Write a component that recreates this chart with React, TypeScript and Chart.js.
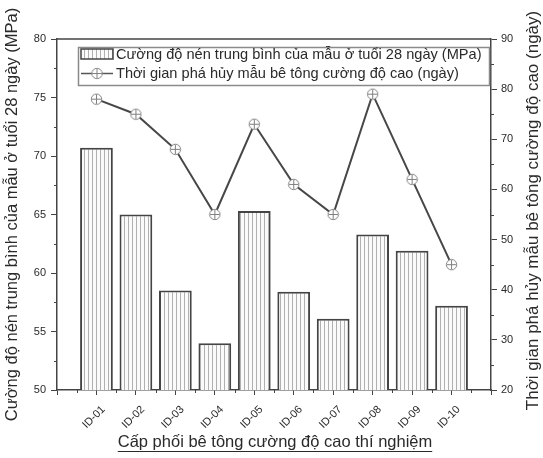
import React, { useEffect, useRef } from "react";
import { Chart, registerables } from "chart.js";

Chart.register(...registerables);

const categories = ["ID-01", "ID-02", "ID-03", "ID-04", "ID-05", "ID-06", "ID-07", "ID-08", "ID-09", "ID-10"];
const strength = [70.7, 65.0, 58.5, 54.0, 65.3, 58.4, 56.1, 63.3, 61.9, 57.2];
const failureDays = [78, 75, 68, 55, 73, 61, 55, 79, 62, 45];
const strengthLabel = "Cường độ nén trung bình của mẫu ở tuổi 28 ngày (MPa)";
const daysLabel = "Thời gian phá hủy mẫu bê tông cường độ cao (ngày)";
const xTitle = "Cấp phối bê tông cường độ cao thí nghiệm";
const leftRange = [50, 80];
const rightRange = [20, 90];

const FONT = '"Liberation Sans", Arial, sans-serif';
const AXIS = "#444";
const TEXT = "#2a2a2a";

function makePattern(): CanvasPattern | string {
  const c = document.createElement("canvas");
  c.width = 4;
  c.height = 4;
  const g = c.getContext("2d");
  if (!g) return "#fff";
  g.fillStyle = "#fafafa";
  g.fillRect(0, 0, 4, 4);
  g.fillStyle = "#b0b0b0";
  g.fillRect(0, 0, 1, 4);
  const p = g.createPattern(c, "repeat");
  return p || "#fff";
}

function makeMarker(): HTMLCanvasElement {
  const c = document.createElement("canvas");
  c.width = 13;
  c.height = 13;
  const g = c.getContext("2d")!;
  g.beginPath();
  g.arc(6.5, 6.5, 5.2, 0, Math.PI * 2);
  g.fillStyle = "#fff";
  g.fill();
  g.strokeStyle = "#808080";
  g.lineWidth = 1;
  g.stroke();
  g.beginPath();
  g.moveTo(6.5, 2);
  g.lineTo(6.5, 11);
  g.moveTo(2, 6.5);
  g.lineTo(11, 6.5);
  g.stroke();
  return c;
}

export default function App() {
  const ref = useRef<HTMLCanvasElement>(null);
  useEffect(() => {
    document.body.style.margin = "0";
    const canvas = ref.current;
    if (!canvas) return;
    const pattern = makePattern();
    const marker = makeMarker();

    const decor = {
      id: "decor",
      afterDraw(chart: any) {
        const { ctx, chartArea } = chart;
        const { left, right, top, bottom } = chartArea;
        const x = chart.scales.x;
        const y = chart.scales.y;
        const y1 = chart.scales.y1;
        ctx.save();
        // top border
        ctx.strokeStyle = AXIS;
        ctx.lineWidth = 1.5;
        ctx.beginPath();
        ctx.moveTo(left, top);
        ctx.lineTo(right, top);
        ctx.stroke();
        // minor ticks
        ctx.lineWidth = 1;
        ctx.beginPath();
        for (let v = leftRange[0] + 2.5; v < leftRange[1]; v += 5) {
          const py = Math.round(y.getPixelForValue(v)) + 0.5;
          ctx.moveTo(left - 3, py);
          ctx.lineTo(left, py);
        }
        for (let v = rightRange[0] + 5; v < rightRange[1]; v += 10) {
          const py = Math.round(y1.getPixelForValue(v)) + 0.5;
          ctx.moveTo(right, py);
          ctx.lineTo(right + 3, py);
        }
        for (let i = 0; i <= categories.length; i++) {
          const px = Math.round(x.getPixelForValue(i + 0.5)) + 0.5;
          ctx.moveTo(px, bottom);
          ctx.lineTo(px, bottom + 3);
        }
        ctx.stroke();

        // axis titles
        ctx.fillStyle = TEXT;
        ctx.textAlign = "center";
        ctx.textBaseline = "middle";
        const cy = (top + bottom) / 2;
        ctx.save();
        ctx.font = `16.5px ${FONT}`;
        ctx.translate(12, cy);
        ctx.rotate(-Math.PI / 2);
        ctx.fillText(strengthLabel, 0, 0);
        ctx.restore();
        ctx.save();
        ctx.font = `17px ${FONT}`;
        ctx.translate(533, cy - 4);
        ctx.rotate(-Math.PI / 2);
        ctx.fillText(daysLabel, 0, 0);
        ctx.restore();

        // x title underlined
        ctx.font = `16.5px ${FONT}`;
        const cx = 275;
        const ty = 442;
        ctx.fillText(xTitle, cx, ty);
        const w = ctx.measureText(xTitle).width;
        ctx.strokeStyle = TEXT;
        ctx.lineWidth = 1;
        ctx.beginPath();
        ctx.moveTo(cx - w / 2, ty + 9.5);
        ctx.lineTo(cx + w / 2, ty + 9.5);
        ctx.stroke();

        // legend
        const lx = 78, ly = 47, lw = 411, lh = 38;
        ctx.fillStyle = "#fff";
        ctx.fillRect(lx, ly, lw, lh);
        ctx.strokeStyle = "#8a8a8a";
        ctx.lineWidth = 1.5;
        ctx.strokeRect(lx + 0.5, ly + 0.5, lw, lh);
        // row 1 patch
        ctx.fillStyle = pattern as any;
        ctx.fillRect(81, 49, 32, 10);
        ctx.strokeStyle = AXIS;
        ctx.lineWidth = 1.5;
        ctx.strokeRect(81, 49, 32, 10);
        // row 2 line + marker
        ctx.strokeStyle = "#555";
        ctx.lineWidth = 1.5;
        ctx.beginPath();
        ctx.moveTo(81, 73.5);
        ctx.lineTo(113, 73.5);
        ctx.stroke();
        ctx.drawImage(marker, 97 - 6.5, 73.5 - 6.5);
        ctx.fillStyle = TEXT;
        ctx.font = `14.6px ${FONT}`;
        ctx.textAlign = "left";
        ctx.textBaseline = "middle";
        ctx.fillText(strengthLabel, 116, 54.5);
        ctx.fillText(daysLabel, 116, 73.5);
        ctx.restore();
      },
    };

    const chart = new Chart(canvas, {
      type: "bar",
      data: {
        datasets: [
          {
            type: "line",
            label: daysLabel,
            data: failureDays.map((v, i) => ({ x: i + 1, y: v })),
            yAxisID: "y1",
            xAxisID: "x",
            borderColor: "#474747",
            borderWidth: 2,
            pointStyle: marker as any,
            pointRadius: 6,
            order: 0,
          } as any,
          {
            type: "bar",
            label: strengthLabel,
            data: strength.map((v, i) => ({ x: i + 1, y: v })),
            yAxisID: "y",
            xAxisID: "x",
            backgroundColor: pattern as any,
            borderColor: AXIS,
            borderWidth: 2,
            borderSkipped: "bottom",
            barPercentage: 0.83,
            categoryPercentage: 1,
            order: 1,
          } as any,
        ],
      },
      options: {
        animation: false,
        responsive: false,
        devicePixelRatio: 1,
        layout: { padding: { top: 39, left: 0, right: 0, bottom: 0 } },
        plugins: { legend: { display: false }, tooltip: { enabled: false } },
        scales: {
          x: {
            type: "linear",
            min: 0,
            max: categories.length + 1,
            offset: false,
            grid: { offset: false, drawOnChartArea: false, tickLength: 5, color: AXIS },
            border: { color: AXIS, width: 1.5 },
            afterFit(scale: any) {
              scale.height = 68;
            },
            afterBuildTicks(scale: any) {
              scale.ticks = Array.from({ length: categories.length + 2 }, (_, i) => ({ value: i }));
            },
            ticks: {
              stepSize: 1,
              autoSkip: false,
              minRotation: 45,
              maxRotation: 45,
              labelOffset: 7,
              padding: 8,
              color: TEXT,
              font: { family: FONT, size: 11 },
              callback: (v: any) => categories[Number(v) - 1] ?? "",
            },
          },
          y: {
            type: "linear",
            position: "left",
            min: leftRange[0],
            max: leftRange[1],
            grid: { drawOnChartArea: false, tickLength: 6, color: AXIS },
            border: { color: AXIS, width: 1.5 },
            afterFit(scale: any) {
              scale.width = 57;
            },
            ticks: { stepSize: 5, padding: 5, color: TEXT, font: { family: FONT, size: 11 } },
          },
          y1: {
            type: "linear",
            position: "right",
            min: rightRange[0],
            max: rightRange[1],
            grid: { drawOnChartArea: false, tickLength: 6, color: AXIS },
            border: { color: AXIS, width: 1.5 },
            afterFit(scale: any) {
              scale.width = 52;
            },
            ticks: { stepSize: 10, padding: 4, color: TEXT, font: { family: FONT, size: 11 } },
          },
        },
      } as any,
      plugins: [decor],
    });
    return () => chart.destroy();
  }, []);
  return (
    <div style={{ width: 543, height: 458, background: "#fff" }}>
      <canvas ref={ref} width={543} height={458} />
    </div>
  );
}
